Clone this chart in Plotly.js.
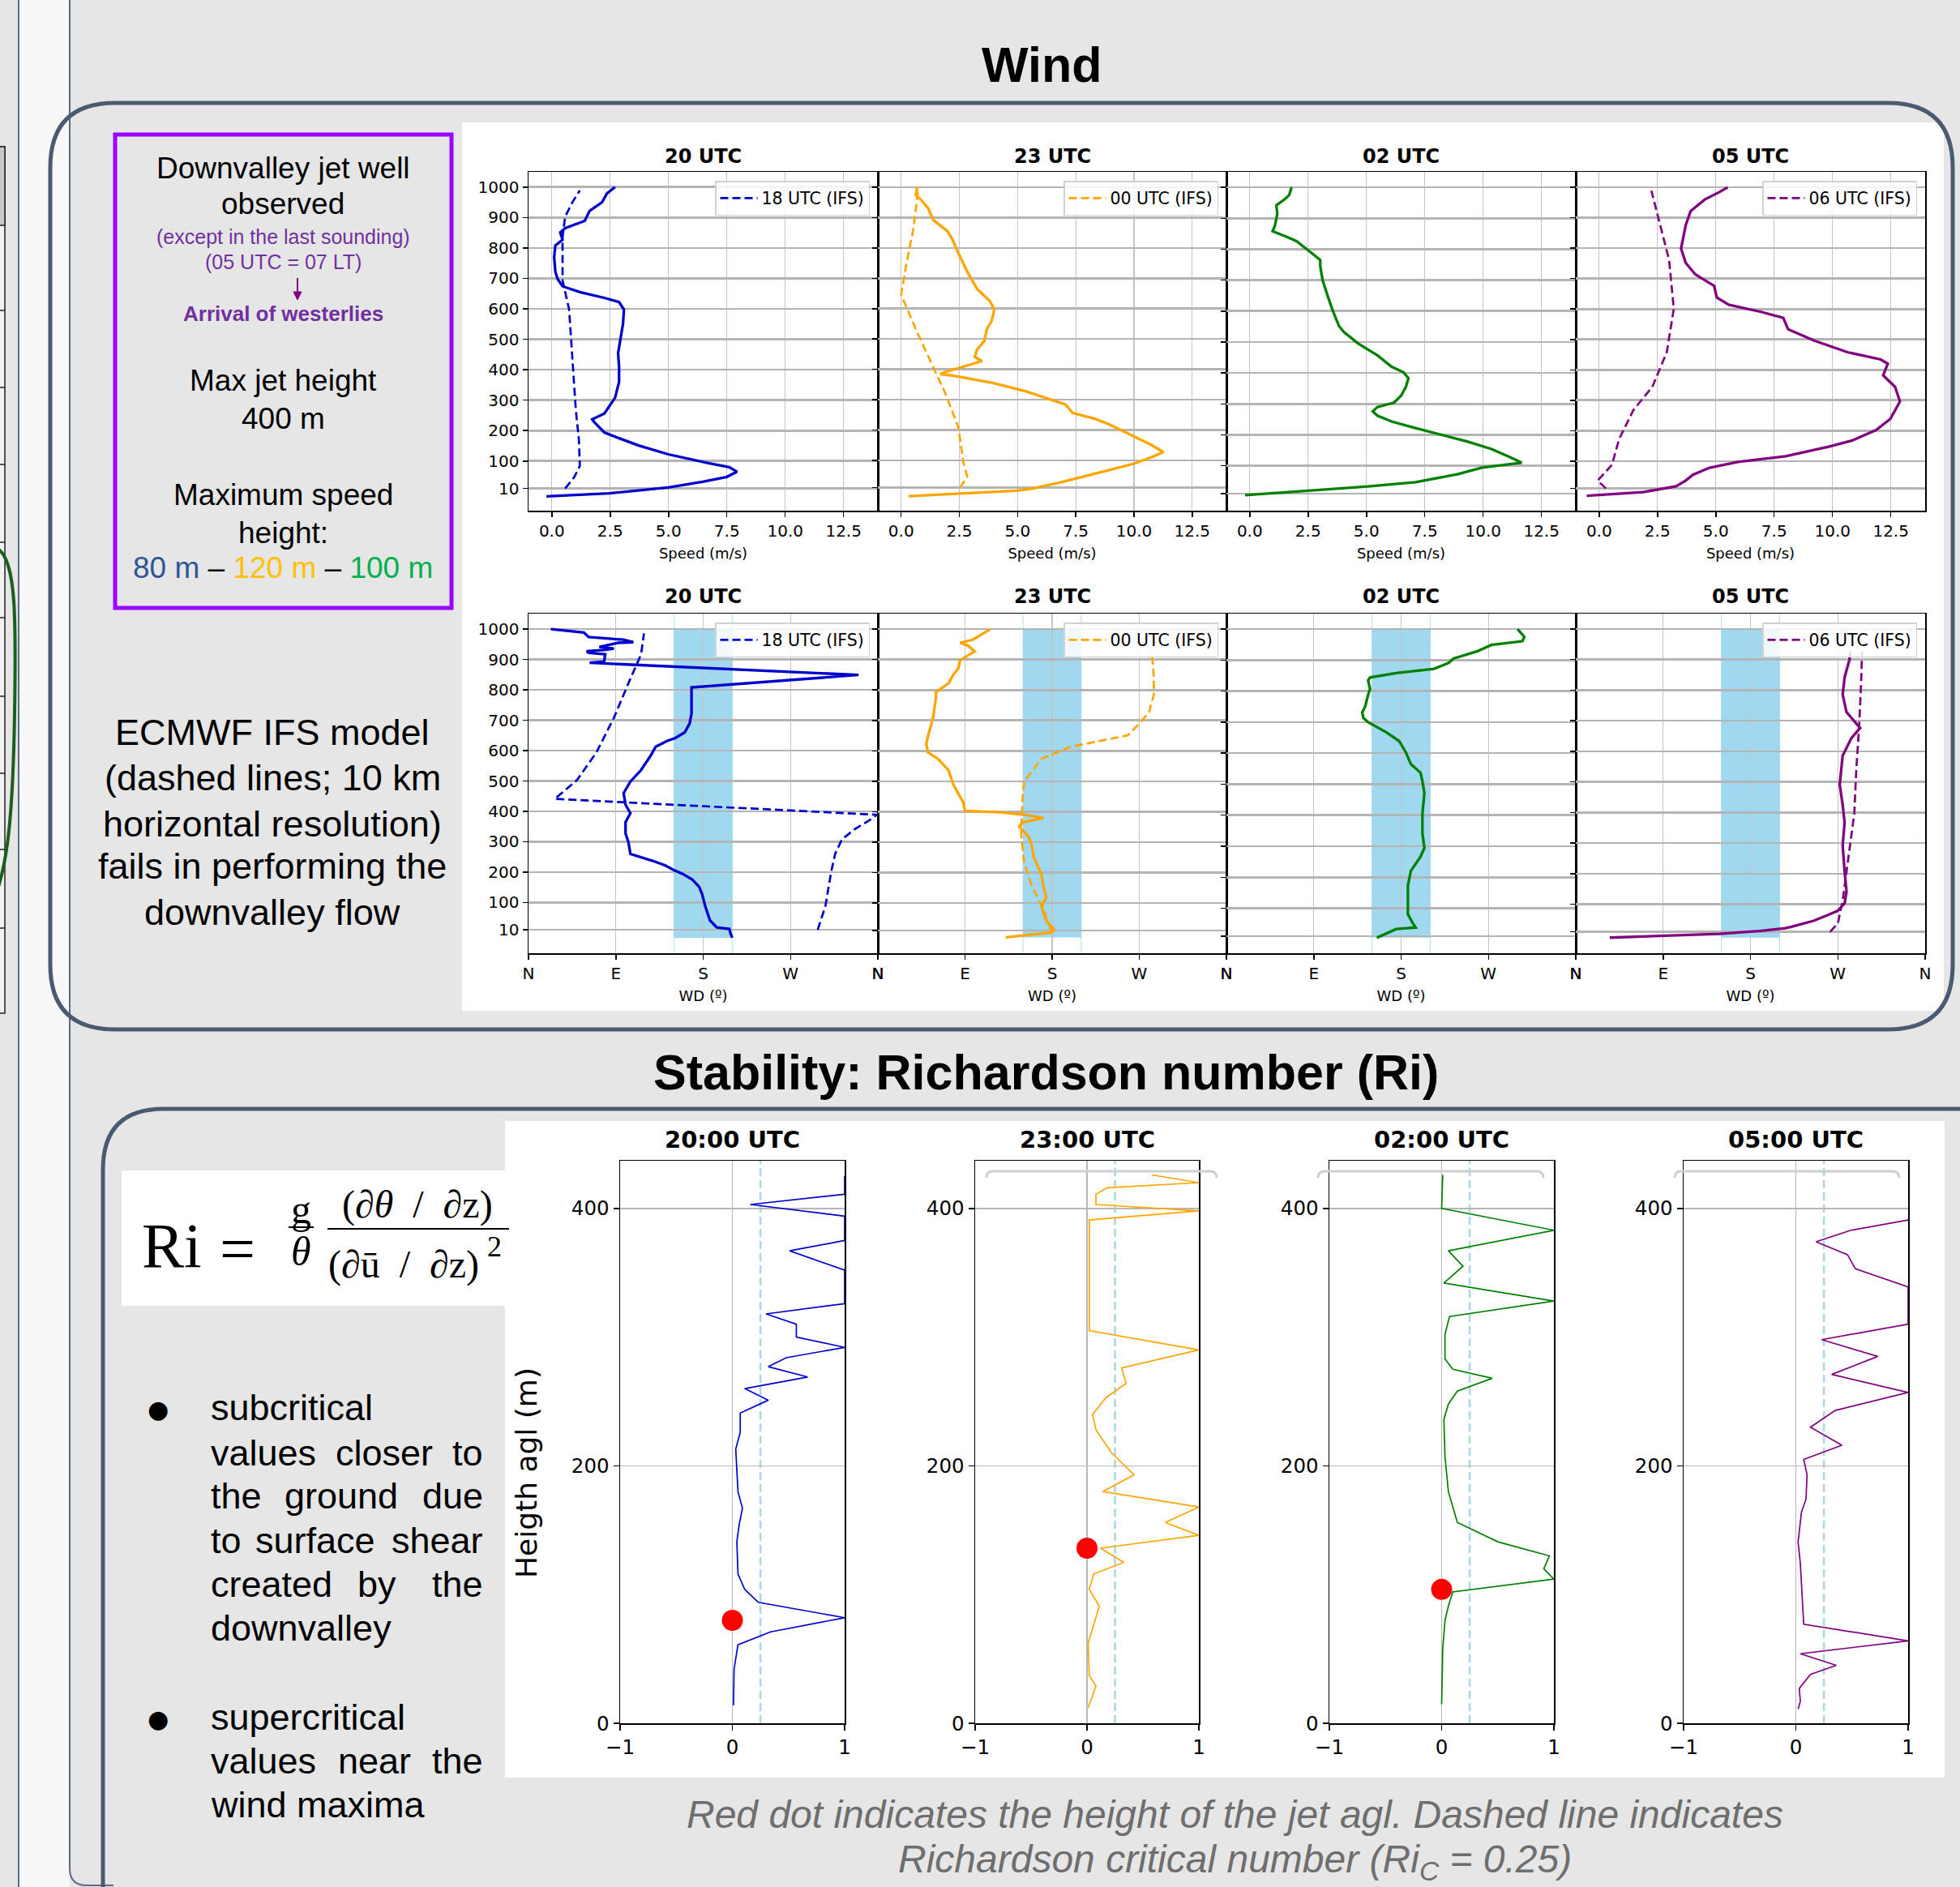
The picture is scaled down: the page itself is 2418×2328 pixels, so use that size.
<!DOCTYPE html>
<html>
<head>
<meta charset="utf-8">
<script src="https://cdn.plot.ly/plotly-3.0.1.min.js"></script>
<style>html,body{margin:0;padding:0;background:#e6e6e6;overflow:hidden}#chart{width:2418px;height:2328px}</style>
</head>
<body>
<div id="chart"></div>
<script>
// ================= DATA =================
const windTitles = ['20 UTC', '23 UTC', '02 UTC', '05 UTC'];
const riTitles = ['20:00 UTC', '23:00 UTC', '02:00 UTC', '05:00 UTC'];
const ifsNames = ['18 UTC (IFS)', '00 UTC (IFS)', null, '06 UTC (IFS)'];
const seriesColors = ['#0000cd', '#ffa500', '#008000', '#800080'];
const speedTicks = [0, 2.5, 5, 7.5, 10, 12.5];
const heightTicks = [10, 100, 200, 300, 400, 500, 600, 700, 800, 900, 1000];
const dirTicks = [0, 90, 180, 270, 360];
const dirLabels = ['N', 'E', 'S', 'W', 'N'];
const southBand = [150, 210];          // shaded down-valley sector (deg)
const riTicksX = [-1, 0, 1];
const riTicksY = [0, 200, 400];
const riCritical = 0.25;
const jetHeights = [80, 136, 104, null];

// --- wind speed (m/s) vs height (m), soundings ---
const spd20H = [-16,-6,13,32,48,65,80,94,122,151,175,194,227,237,256,279,308,360,408,455,494,551,598,622,636,655,674,698,722,770,808,827,851,865,889,922,950,979,1000];
const spd20V = [-0.23,2.46,4.99,6.46,7.5,7.93,7.6,6.67,4.99,3.72,2.88,2.25,1.83,1.73,2.25,2.46,2.71,2.88,2.88,2.84,2.93,3.05,3.09,2.88,2.25,1.2,0.46,0.25,0.15,0.1,0.15,0.46,0.36,0.57,1.41,1.62,2.15,2.36,2.71];
const spd23H = [-18,-11,0,6,27,60,89,113,127,151,179,218,237,256,284,327,356,379,384,391,427,441,465,494,532,560,598,627,665,722,789,827,855,893,931,960,974,1000];
const spd23V = [0.32,2.21,4.95,5.58,6.84,8.53,10.0,10.84,11.26,10.74,10.0,8.95,8.32,7.37,7.05,5.37,3.89,2.21,1.68,1.89,3.47,3.16,3.26,3.58,3.68,3.89,4.0,3.79,3.26,2.84,2.42,2.21,2.0,1.37,1.16,0.84,0.63,0.69];
const spd02H = [5,19,33,47,59,73,94,101,110,127,154,178,201,222,243,262,276,290,304,327,355,383,402,420,457,495,532,551,569,607,653,700,746,765,784,826,840,858,877,914,942,961,975,1000];
const spd02V = [-0.2,2.61,5.06,7.1,8.01,8.93,9.95,10.77,11.65,11.17,10.36,9.34,8.12,7.1,6.08,5.47,5.27,5.47,6.18,6.49,6.69,6.8,6.59,6.08,5.47,4.65,4.04,3.83,3.73,3.53,3.32,3.12,3.02,3.02,2.71,2.0,1.59,0.98,1.08,1.18,1.14,1.49,1.69,1.79];
const spd05H = [-14,-2,17,36,55,78,97,116,147,168,202,239,296,344,382,420,434,458,496,533,571,590,614,638,676,714,752,799,837,875,922,960,984,1000];
const spd05V = [-0.53,1.88,3.3,3.71,4.02,4.73,5.95,7.99,9.83,10.85,11.87,12.48,12.89,12.68,12.17,12.37,12.07,10.64,9.22,8.1,7.89,6.97,5.55,5.04,4.93,4.12,3.71,3.51,3.61,3.71,3.92,4.53,5.14,5.51];
// --- wind speed, IFS model ---
const ifsSpd18H = [10,46,84,170,265,360,503,598,693,836,903,950,989];
const ifsSpd18V = [0.57,0.95,1.2,1.16,1.03,0.95,0.82,0.74,0.46,0.46,0.57,0.88,1.2];
const ifsSpd00H = [10,46,94,208,322,408,532,646,741,865,1000];
const ifsSpd00V = [2.53,2.84,2.67,2.46,1.89,1.37,0.63,0.0,0.21,0.53,0.74];
const ifsSpd06H = [10,36,88,173,268,344,458,600,761,884,989];
const ifsSpd06V = [0.29,-0.06,0.55,0.86,1.47,2.28,2.9,3.2,3.0,2.59,2.24];

// --- wind direction (deg) vs height (m), soundings ---
const dir20H = [-16,-1,13,18,41,89,127,151,175,194,208,222,237,251,260,298,327,365,394,422,460,498,536,584,613,632,641,660,689,722,808,849,889,893,917,922,927,931,936,941,955,957,965,970,974,989,998,1000];
const dir20V = [210,208,207,194,187,182,179,176,169,159,149,141,128,113,105,103,100,100,105,100,98,105,116,126,131,143,151,161,166,168,168,340,63,78,79,62,60,78,88,73,93,108,98,78,62,57,27,23];
const dir23H = [-13,-6,3,13,41,89,118,156,194,251,289,317,351,365,379,389,398,403,432,460,489,536,574,594,622,651,708,774,793,822,851,870,898,927,946,955,965,984,1000];
const dir23V = [132,154,179,182,174,169,174,171,169,161,159,156,146,149,171,154,126,90,88,83,78,73,62,52,50,52,57,60,60,73,78,83,85,100,93,85,98,108,116];
const dir02H = [5,33,38,52,80,173,220,266,294,341,406,471,509,537,565,602,639,667,700,714,732,751,788,807,835,844,858,872,891,905,928,949,961,975,1000];
const dir02V = [155,175,195,192,187,187,190,200,204,202,202,204,202,200,190,185,178,165,146,141,140,143,146,148,146,148,175,214,229,234,258,273,305,307,300];
const dir05H = [-9,-3,3,13,22,27,46,65,79,103,141,207,292,368,425,491,586,643,676,728,785,842,899,927];
const dir05V = [35,94,148,191,216,223,245,260,270,277,279,277,275,277,275,272,275,284,293,279,275,277,282,283];
// --- wind direction, IFS model ---
const ifsDir18H = [10,89,203,260,308,341,370,389,441,503,594,708,822,917,986];
const ifsDir18V = [298,306,312,316,323,336,351,359,27,50,70,88,103,116,119];
const ifsDir00H = [10,79,156,232,327,422,498,574,613,632,651,689,727,784,841,927];
const ifsDir00V = [179,171,159,151,148,149,151,169,199,230,258,270,280,285,285,283];
const ifsDir06H = [10,37,112,207,302,397,539,681,823,927];
const ifsDir06V = [262,270,275,279,283,287,289,292,294,295];

// --- Richardson number vs height agl (m) ---
const ri20H = [14,42,61,71,82,94,104,116,141,154,167,180,213,226,241,251,260,269,277,284,292,300,310,318,326,352,367,375,394,403,411,425];
const ri20V = [0.01,0.015,0.05,0.34,1,0.23,0.11,0.05,0.04,0.06,0.09,0.05,0.03,0.07,0.07,0.32,0.11,0.67,0.32,0.48,1,0.57,0.57,0.30,1,1,0.51,1,1,0.16,1,1];
const ri23H = [12,29,37,62,91,104,116,125,136,146,156,168,180,193,210,228,240,253,264,276,290,305,371,391,398,403,411,416,420,426];
const ri23V = [0.01,0.08,0.02,0.01,0.11,0.02,0.06,0.33,0.12,1,0.70,1,0.14,0.42,0.22,0.08,0.05,0.17,0.35,0.31,1,0.02,0.02,0.02,1,0.08,0.08,0.18,1,0.58];
const ri02H = [15,58,80,91,102,112,120,130,141,156,180,207,236,248,258,268,275,283,302,316,328,342,355,367,383,400,426];
const ri02V = [0,0.01,0.03,0.06,0.1,1,0.91,0.96,0.5,0.14,0.06,0.03,0.02,0.06,0.14,0.45,0.10,0.03,0.03,0.07,1,0.02,0.19,0.06,1,0,0.01];
const ri05H = [11,17,27,38,45,54,64,77,124,141,164,174,193,205,216,230,243,257,271,285,298,310,339,353,364,374,383,391];
const ri05V = [0.02,0.04,0.03,0.13,0.36,0.04,1,0.07,0.04,0.02,0.05,0.09,0.10,0.07,0.41,0.13,0.35,1,0.32,0.73,0.23,1,1,0.53,0.46,0.18,0.49,1];

// ================= LAYOUT HELPERS =================
const W = 2418, H = 2328;
const X = v => v / W, Y = v => 1 - v / H;
const SANS = 'Liberation Sans, Arial, sans-serif';
const DV = 'DejaVu Sans, sans-serif';
const SERIF = 'Liberation Serif, Times New Roman, serif';

function P(segs) {
  return segs.map(s => s[0] + (s.length > 1 ? ' ' + s.slice(1).map((v, i) => (i % 2 === 0 ? X(v) : Y(v)).toFixed(6)).join(',') : '')).join(' ');
}
function rr(x0, y0, x1, y1, r) {
  return P([['M', x0 + r, y0], ['L', x1 - r, y0], ['Q', x1, y0, x1, y0 + r], ['L', x1, y1 - r], ['Q', x1, y1, x1 - r, y1],
    ['L', x0 + r, y1], ['Q', x0, y1, x0, y1 - r], ['L', x0, y0 + r], ['Q', x0, y0, x0 + r, y0], ['Z']]);
}
function T(x, y, text, size, color, family, o) {
  return Object.assign({ xref: 'paper', yref: 'paper', x: X(x), y: Y(y), text: text, showarrow: false,
    xanchor: 'center', yanchor: 'middle', font: { family: family || SANS, size: size, color: color || '#000' } }, o || {});
}
const ax = n => (n === 1 ? '' : String(n));

const windCols = [[652, 1083], [1083, 1513], [1513, 1944], [1944, 2375]];
const topRow = [212, 630], botRow = [757, 1176];
const topRanges = [[-63, 1050], [-66, 1051], [-45, 1050], [-63, 1051]];
const botRanges = [[-67, 1051], [-65, 1051], [-45, 1050], [-60, 1050]];
const riCols = [[765, 1042], [1203, 1479], [1640, 1917], [2077, 2354]];
const riRow = [1432, 2126];

const speedObs = [[spd20H, spd20V], [spd23H, spd23V], [spd02H, spd02V], [spd05H, spd05V]];
const speedIfs = [[ifsSpd18H, ifsSpd18V], [ifsSpd00H, ifsSpd00V], null, [ifsSpd06H, ifsSpd06V]];
const dirObs = [[dir20H, dir20V], [dir23H, dir23V], [dir02H, dir02V], [dir05H, dir05V]];
const dirIfs = [[ifsDir18H, ifsDir18V], [ifsDir00H, ifsDir00V], null, [ifsDir06H, ifsDir06V]];
const riObs = [[ri20H, ri20V], [ri23H, ri23V], [ri02H, ri02V], [ri05H, ri05V]];

const layout = {
  width: W, height: H, margin: { l: 0, r: 0, t: 0, b: 0 },
  paper_bgcolor: '#e6e6e6', plot_bgcolor: '#ffffff', showlegend: true,
  font: { family: DV, size: 19, color: '#000' },
  shapes: [], annotations: []
};
const data = [];
const shapes = layout.shapes, ann = layout.annotations;

// ---------- decorations (page) ----------
shapes.push({ type: 'rect', xref: 'paper', yref: 'paper', x0: X(24), x1: X(86), y0: Y(H), y1: Y(0), fillcolor: '#f8f8f8', line: { width: 0 }, layer: 'below' });
shapes.push({ type: 'line', xref: 'paper', yref: 'paper', x0: X(23), x1: X(23), y0: Y(0), y1: Y(H), line: { color: '#5b6b82', width: 2 }, layer: 'below' });
shapes.push({ type: 'path', xref: 'paper', yref: 'paper', path: P([['M', 86, 0], ['L', 86, 2305], ['Q', 86, 2326, 107, 2326], ['L', 140, 2326]]), line: { color: '#5b6b82', width: 2 }, layer: 'below' });
// left table fragment
shapes.push({ type: 'rect', xref: 'paper', yref: 'paper', x0: X(-2), x1: X(6), y0: Y(1250), y1: Y(181), fillcolor: '#f2f2f2', line: { color: '#222', width: 1.5 }, layer: 'below' });
shapes.push({ type: 'rect', xref: 'paper', yref: 'paper', x0: X(-2), x1: X(6), y0: Y(278), y1: Y(181), fillcolor: '#c8c8c8', line: { color: '#222', width: 1.5 }, layer: 'below' });
[383, 478, 573, 669, 762, 859, 954, 1048, 1145].forEach(v => shapes.push({ type: 'line', xref: 'paper', yref: 'paper', x0: X(0), x1: X(6), y0: Y(v), y1: Y(v), line: { color: '#222', width: 1.5 }, layer: 'below' }));
shapes.push({ type: 'path', xref: 'paper', yref: 'paper', path: P([['M', -4, 676], ['C', 20, 690, 20, 760, 18, 880], ['C', 16, 1000, 10, 1060, -4, 1100]]), line: { color: '#1d5e20', width: 4 } });

// wind section frame
shapes.push({ type: 'rect', xref: 'paper', yref: 'paper', x0: X(570), x1: X(2398), y0: Y(1247), y1: Y(151), fillcolor: '#ffffff', line: { width: 0 }, layer: 'below' });
shapes.push({ type: 'path', xref: 'paper', yref: 'paper', path: rr(62, 127, 2409, 1270, 80), line: { color: '#4a5a70', width: 5 }, layer: 'below' });
shapes.push({ type: 'rect', xref: 'paper', yref: 'paper', x0: X(142), x1: X(557), y0: Y(750), y1: Y(166), line: { color: '#9900ff', width: 5 }, layer: 'below' });
// arrow
shapes.push({ type: 'line', xref: 'paper', yref: 'paper', x0: X(367), x1: X(367), y0: Y(343), y1: Y(362), line: { color: '#800080', width: 2 } });
shapes.push({ type: 'path', xref: 'paper', yref: 'paper', path: P([['M', 362, 360], ['L', 372, 360], ['L', 367, 370], ['Z']]), fillcolor: '#800080', line: { color: '#800080', width: 1 } });

// stability section frame
shapes.push({ type: 'rect', xref: 'paper', yref: 'paper', x0: X(623), x1: X(2399), y0: Y(2193), y1: Y(1383), fillcolor: '#ffffff', line: { width: 0 }, layer: 'below' });
shapes.push({ type: 'rect', xref: 'paper', yref: 'paper', x0: X(150), x1: X(624), y0: Y(1611), y1: Y(1444), fillcolor: '#ffffff', line: { width: 0 }, layer: 'below' });
shapes.push({ type: 'path', xref: 'paper', yref: 'paper', path: P([['M', 127, 2420], ['L', 127, 1443], ['Q', 127, 1368, 202, 1368], ['L', 2500, 1368]]), line: { color: '#4a5a70', width: 5 }, layer: 'below' });
// formula fraction bars
shapes.push({ type: 'line', xref: 'paper', yref: 'paper', x0: X(356), x1: X(387), y0: Y(1514), y1: Y(1514), line: { color: '#000', width: 2 } });
shapes.push({ type: 'line', xref: 'paper', yref: 'paper', x0: X(404), x1: X(628), y0: Y(1516), y1: Y(1516), line: { color: '#000', width: 2 } });
// faint empty-legend brackets on Ri panels
[[1217, 1501], [1626, 1904], [2066, 2343]].forEach(b => shapes.push({ type: 'path', xref: 'paper', yref: 'paper',
  path: P([['M', b[0], 1453], ['Q', b[0], 1445, b[0] + 8, 1445], ['L', b[1] - 8, 1445], ['Q', b[1], 1445, b[1], 1453]]), line: { color: '#cfcfcf', width: 3 } }));

// ---------- axes ----------
function baseAxis(extra) {
  return Object.assign({ showline: true, linecolor: '#000', linewidth: 1.5, mirror: true, ticks: 'outside', ticklen: 6,
    tickwidth: 1.5, tickcolor: '#000', zeroline: false, showgrid: true, fixedrange: true,
    tickfont: { family: DV, size: 20, color: '#000' } }, extra);
}

const legendIds = ['legend', 'legend2', null, 'legend3', 'legend4', 'legend5', null, 'legend6'];
for (let row = 0; row < 2; row++) {
  for (let i = 0; i < 4; i++) {
    const n = row * 4 + i + 1;
    const rowPx = row === 0 ? topRow : botRow;
    const xa = baseAxis({ domain: [X(windCols[i][0]), X(windCols[i][1])], anchor: 'y' + ax(n),
      gridcolor: '#c4c4c4', gridwidth: 1.3,
      title: { text: row === 0 ? 'Speed (m/s)' : 'WD (º)', font: { family: DV, size: 18, color: '#000' }, standoff: 11 } });
    if (row === 0) { Object.assign(xa, { range: [-1, 13.97], tickvals: speedTicks, tickformat: '.1f' }); }
    else { Object.assign(xa, { range: [0, 360], tickvals: dirTicks, ticktext: dirLabels }); }
    const ya = baseAxis({ domain: [Y(rowPx[1]), Y(rowPx[0])], anchor: 'x' + ax(n), range: row === 0 ? topRanges[i] : botRanges[i],
      tickvals: heightTicks, showticklabels: i === 0, gridcolor: '#b4b4b4', gridwidth: 2.6 });
    layout['xaxis' + ax(n)] = xa;
    layout['yaxis' + ax(n)] = ya;

    const obs = row === 0 ? speedObs[i] : dirObs[i];
    const ifs = row === 0 ? speedIfs[i] : dirIfs[i];
    data.push({ type: 'scatter', mode: 'lines', x: obs[1], y: obs[0], xaxis: 'x' + ax(n), yaxis: 'y' + ax(n),
      line: { color: seriesColors[i], width: 3.3 }, showlegend: false, hoverinfo: 'skip' });
    if (ifs) {
      const lid = legendIds[n - 1];
      data.push({ type: 'scatter', mode: 'lines', x: ifs[1], y: ifs[0], xaxis: 'x' + ax(n), yaxis: 'y' + ax(n),
        name: ifsNames[i], legend: lid, line: { color: seriesColors[i], width: 2.7, dash: '10px,5px' }, showlegend: true, hoverinfo: 'skip' });
      layout[lid] = { x: X(windCols[i][1] - 10), y: Y(rowPx[0] + 11), xanchor: 'right', yanchor: 'top',
        bgcolor: 'rgba(255,255,255,0.85)', bordercolor: '#d2d2d2', borderwidth: 1.5, itemwidth: 46,
        font: { family: DV, size: 20.5, color: '#000' } };
    }
    if (row === 1) {
      const lowest = Math.min.apply(null, obs[0]);
      shapes.push({ type: 'rect', xref: 'x' + ax(n), yref: 'y' + ax(n), x0: southBand[0], x1: southBand[1], y0: lowest, y1: 1000,
        fillcolor: 'rgba(135,206,235,0.8)', line: { width: 0 }, layer: 'below' });
      southBand.forEach(b => shapes.push({ type: 'line', xref: 'x' + ax(n), yref: 'y' + ax(n) + ' domain', x0: b, x1: b, y0: 0, y1: 1,
        line: { color: 'rgba(135,206,235,0.55)', width: 1.2 }, layer: 'below' }));
    }
    ann.push(T((windCols[i][0] + windCols[i][1]) / 2, row === 0 ? 193 : 736, '<b>' + windTitles[i] + '</b>', 24, '#000', DV));
  }
}

// Ri panels
for (let i = 0; i < 4; i++) {
  const n = 9 + i;
  layout['xaxis' + n] = baseAxis({ domain: [X(riCols[i][0]), X(riCols[i][1])], anchor: 'y' + n, range: [-1, 1],
    tickvals: riTicksX, gridcolor: '#b8b8b8', gridwidth: 1.5, ticklen: 7, tickfont: { family: DV, size: 24.5, color: '#000' } });
  layout['yaxis' + n] = baseAxis({ domain: [Y(riRow[1]), Y(riRow[0])], anchor: 'x' + n, range: [0, 437],
    tickvals: riTicksY, gridcolor: '#b8b8b8', gridwidth: 1.5, ticklen: 7, tickfont: { family: DV, size: 24.5, color: '#000' } });
  shapes.push({ type: 'line', xref: 'x' + n, yref: 'y' + n + ' domain', x0: riCritical, x1: riCritical, y0: 0, y1: 1,
    line: { color: '#add8e6', width: 2.6, dash: '10px,5px' }, layer: 'below' });
  data.push({ type: 'scatter', mode: 'lines', x: riObs[i][1], y: riObs[i][0], xaxis: 'x' + n, yaxis: 'y' + n,
    line: { color: seriesColors[i], width: 1.7 }, showlegend: false, hoverinfo: 'skip' });
  if (jetHeights[i] !== null) {
    data.push({ type: 'scatter', mode: 'markers', x: [0], y: [jetHeights[i]], xaxis: 'x' + n, yaxis: 'y' + n,
      marker: { color: '#ff0000', size: 26 }, showlegend: false, cliponaxis: false, hoverinfo: 'skip' });
  }
  ann.push(T((riCols[i][0] + riCols[i][1]) / 2, 1406, '<b>' + riTitles[i] + '</b>', 29, '#000', DV));
}
ann.push(T(649, 1817, 'Heigth agl (m)', 36, '#000', DV, { textangle: -90 }));

// ---------- poster text ----------
const PURPLE = '#7030a0';
ann.push(T(1285, 80, '<b>Wind</b>', 61));
ann.push(T(1290, 1323, '<b>Stability: Richardson number (Ri)</b>', 61));
ann.push(T(349, 207, 'Downvalley jet well', 37));
ann.push(T(349, 251, 'observed', 37));
ann.push(T(349, 292, '(except in the last sounding)', 25, PURPLE));
ann.push(T(349, 323, '(05 UTC = 07 LT)', 25, PURPLE));
ann.push(T(349, 387, '<b>Arrival of westerlies</b>', 26, PURPLE));
ann.push(T(349, 470, 'Max jet height', 37));
ann.push(T(349, 516, '400 m', 37));
ann.push(T(349, 611, 'Maximum speed', 37));
ann.push(T(349, 657, 'height:', 37));
ann.push(T(349, 700, '<span style="color:#2f5597">80 m</span> – <span style="color:#ffc000">120 m</span> – <span style="color:#00b050">100 m</span>', 37));
['ECMWF IFS model', '(dashed lines; 10 km', 'horizontal resolution)', 'fails in performing the', 'downvalley flow']
  .forEach((t, k) => ann.push(T(336, [904, 959, 1016, 1069, 1125][k], t, 45)));

// formula
ann.push(T(212, 1536, 'Ri', 78, '#000', SERIF));
ann.push(T(293, 1540, '=', 78, '#000', SERIF));
ann.push(T(371, 1492, 'g', 50, '#000', SERIF));
ann.push(T(371, 1544, '<i>θ</i>', 50, '#000', SERIF));
ann.push(T(515, 1486, '(∂<i>θ</i>\u00a0\u00a0/\u00a0\u00a0∂z)', 48, '#000', SERIF));
ann.push(T(498, 1560, '(∂ū\u00a0\u00a0/\u00a0\u00a0∂z)', 48, '#000', SERIF));
ann.push(T(610, 1538, '2', 36, '#000', SERIF));

// bullets
const bulletLines = [
  [['subcritical'], 1736], [['values', 'closer', 'to'], 1792, 474], [['the', 'ground', 'due'], 1845, 421],
  [['to', 'surface', 'shear'], 1900, 389], [['created', 'by', 'the'], 1954, 465], [['downvalley'], 2008],
  [['supercritical'], 2118], [['values', 'near', 'the'], 2172, 462], [['wind maxima'], 2226]
];
bulletLines.forEach(l => {
  const w = l[0], y = l[1];
  ann.push(T(258, y, w[0], 45, '#000', SANS, { xanchor: 'left' }));
  if (w.length === 3) {
    ann.push(T(l[2], y, w[1], 45));
    ann.push(T(598, y, w[2], 45, '#000', SANS, { xanchor: 'right' }));
  }
});
ann.push(T(195, 1738, '●', 30, '#000', DV));
ann.push(T(195, 2120, '●', 30, '#000', DV));

// caption
ann.push(T(1523, 2238, '<i>Red dot indicates the height of the jet agl. Dashed line indicates</i>', 48, '#6e6e6e'));
ann.push(T(1523, 2297, '<i>Richardson critical number (Ri<sub>C</sub> = 0.25)</i>', 48, '#6e6e6e'));

Plotly.newPlot('chart', data, layout, { displayModeBar: false, staticPlot: true });
</script>
</body>
</html>
